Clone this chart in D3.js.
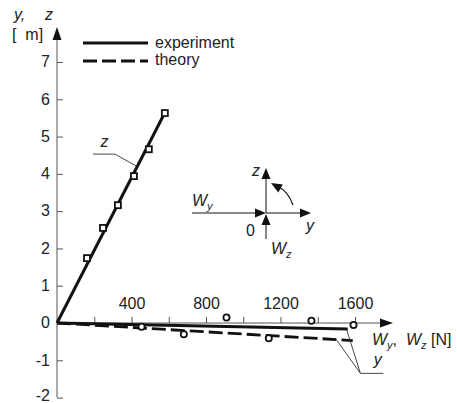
<!DOCTYPE html>
<html>
<head>
<meta charset="utf-8">
<script src="https://cdn.jsdelivr.net/npm/d3@7"></script>
<style>
  body { margin: 0; background: #fff; }
  svg { display: block; font-family: "Liberation Sans", Arial, sans-serif; }
  .tick text { font-size: 16px; fill: #222; }
  .tick line, .ax { stroke: #555; stroke-width: 1; }
</style>
</head>
<body>
<svg id="chart" width="457" height="403"></svg>
<script>
// z displacement (squares), force in N
const zForce = [161, 247, 327, 413, 493, 579];
const zDisp = [1.74, 2.55, 3.16, 3.94, 4.66, 5.63];
// y displacement (circles)
const yForce = [454, 681, 910, 1137, 1366, 1592];
const yDisp = [-0.10, -0.30, 0.15, -0.41, 0.06, -0.05];
// fitted lines
const zExperiment = [[0, 0], [585, 5.7]];
const yExperiment = [[0, 0], [1561, -0.16]];
const yTheory = [[0, 0], [1588, -0.47]];
const xTicks = [200, 400, 600, 800, 1000, 1200, 1400, 1600];
const yTicks = [-2, -1, 0, 1, 2, 3, 4, 5, 6, 7];

const svg = d3.select("#chart");
const x = d3.scaleLinear().domain([0, 1600]).range([57, 355]);
const y = d3.scaleLinear().domain([-2, 7]).range([397.6, 62]);
const line = d3.line().x(d => x(d[0])).y(d => y(d[1]));

// axes lines with arrows
svg.append("line").attr("class", "ax")
  .attr("x1", x(0)).attr("x2", 382).attr("y1", y(0)).attr("y2", y(0));
svg.append("path").attr("fill", "#111")
  .attr("d", `M393,${y(0)} L380,${y(0) - 4.5} L380,${y(0) + 4.5} Z`);
svg.append("line").attr("class", "ax")
  .attr("x1", x(0)).attr("x2", x(0)).attr("y1", y(-2)).attr("y2", 38);
svg.append("path").attr("fill", "#111")
  .attr("d", `M${x(0)},27 L${x(0) - 4.5},40 L${x(0) + 4.5},40 Z`);

const yAxis = svg.append("g").attr("transform", `translate(${x(0)},0)`)
  .call(d3.axisLeft(y).tickValues(yTicks).tickSize(-6).tickPadding(7).tickFormat(d => String(d)));
yAxis.select(".domain").remove();
yAxis.selectAll(".tick text").attr("dy", d => d === -2 ? "0.15em" : "0.3em");

const xAxis = svg.append("g").attr("transform", `translate(0,${y(0)})`)
  .call(d3.axisTop(x).tickValues(xTicks).tickSize(6).tickPadding(8)
    .tickFormat(d => d % 400 === 0 ? d : ""));
xAxis.select(".domain").remove();
xAxis.selectAll(".tick text").attr("dy", "0em");

// axis titles
svg.append("text").attr("x", 14).attr("y", 20).attr("font-size", 16).attr("font-style", "italic")
  .attr("fill", "#222").text("y,");
svg.append("text").attr("x", 45).attr("y", 20).attr("font-size", 16).attr("font-style", "italic")
  .attr("fill", "#222").text("z");
svg.append("text").attr("x", 12).attr("y", 40).attr("font-size", 16).attr("fill", "#222")
  .attr("xml:space", "preserve").text("[  m]");

const xt = svg.append("text").attr("x", 372).attr("y", 345).attr("font-size", 16).attr("fill", "#222")
  .attr("xml:space", "preserve");
xt.append("tspan").attr("font-style", "italic").text("W");
xt.append("tspan").attr("font-style", "italic").attr("font-size", 11).attr("dy", 4).text("y");
xt.append("tspan").attr("dy", -4).text(",  ");
xt.append("tspan").attr("font-style", "italic").text("W");
xt.append("tspan").attr("font-style", "italic").attr("font-size", 11).attr("dy", 4).text("z");
xt.append("tspan").attr("dy", -4).text(" [N]");

// lines
svg.append("path").datum(yTheory).attr("d", line).attr("fill", "none")
  .attr("stroke", "#111").attr("stroke-width", 2.8).attr("stroke-dasharray", "14,5");
svg.append("path").datum(yExperiment).attr("d", line).attr("fill", "none")
  .attr("stroke", "#111").attr("stroke-width", 2.8);
svg.append("path").datum(zExperiment).attr("d", line).attr("fill", "none")
  .attr("stroke", "#111").attr("stroke-width", 3);

// markers
svg.selectAll(".sq").data(zForce).join("rect").attr("class", "sq")
  .attr("x", d => x(d) - 3).attr("y", (d, i) => y(zDisp[i]) - 3)
  .attr("width", 6).attr("height", 6)
  .attr("fill", "#fff").attr("stroke", "#111").attr("stroke-width", 1.8);
svg.selectAll(".ci").data(yForce).join("circle").attr("class", "ci")
  .attr("cx", d => x(d)).attr("cy", (d, i) => y(yDisp[i])).attr("r", 3.1)
  .attr("fill", "#fff").attr("stroke", "#111").attr("stroke-width", 1.8);

// leader annotations (data units)
const zLeader = [[193, 4.53], [311, 4.53], [429, 4.2]];
svg.append("path").datum(zLeader).attr("d", line).attr("fill", "none").attr("stroke", "#333").attr("stroke-width", 0.9);
svg.append("text").attr("x", x(255)).attr("y", y(4.73)).attr("font-size", 16).attr("font-style", "italic")
  .attr("fill", "#222").attr("text-anchor", "middle").text("z");

const yLeaderA = [[1502, -0.46], [1629, -1.35], [1752, -1.35]];
const yLeaderB = [[1556, -0.19], [1629, -1.35]];
[yLeaderA, yLeaderB].forEach(p => svg.append("path").datum(p).attr("d", line)
  .attr("fill", "none").attr("stroke", "#333").attr("stroke-width", 0.9));
svg.append("text").attr("x", x(1722)).attr("y", y(-1.12)).attr("font-size", 16).attr("font-style", "italic")
  .attr("fill", "#222").attr("text-anchor", "middle").text("y");

// legend
const lg = svg.append("g");
lg.append("line").attr("x1", 83).attr("x2", 148).attr("y1", 43).attr("y2", 43)
  .attr("stroke", "#111").attr("stroke-width", 2.8);
lg.append("line").attr("x1", 83).attr("x2", 148).attr("y1", 61).attr("y2", 61)
  .attr("stroke", "#111").attr("stroke-width", 2.8).attr("stroke-dasharray", "14,5");
lg.append("text").attr("x", 155).attr("y", 48).attr("font-size", 16).attr("fill", "#222").text("experiment");
lg.append("text").attr("x", 155).attr("y", 65).attr("font-size", 16).attr("fill", "#222").text("theory");

// inset sketch of forces
const ins = svg.append("g").attr("transform", "translate(266,213)");
const arrowHead = (g, tx, ty, ang) => g.append("path").attr("fill", "#111")
  .attr("transform", `translate(${tx},${ty}) rotate(${ang})`).attr("d", "M0,0 L-11,-4.5 L-11,4.5 Z");
ins.append("line").attr("x1", -74).attr("x2", -10).attr("y1", 0).attr("y2", 0).attr("stroke", "#111");
arrowHead(ins, 0, 0, 0);
ins.append("line").attr("x1", 0).attr("x2", 35).attr("y1", 0).attr("y2", 0).attr("stroke", "#111");
arrowHead(ins, 45, 0, 0);
ins.append("line").attr("x1", 0).attr("x2", 0).attr("y1", 0).attr("y2", -34).attr("stroke", "#111");
arrowHead(ins, 0, -45, -90);
ins.append("line").attr("x1", 0).attr("x2", 0).attr("y1", 26).attr("y2", 10).attr("stroke", "#111");
arrowHead(ins, 0, 1, -90);
ins.append("path").attr("d", "M27,-8 Q22,-22 11,-27").attr("fill", "none").attr("stroke", "#111").attr("stroke-width", 1.2);
arrowHead(ins, 5, -30, -150);
ins.append("text").attr("x", -14).attr("y", -37).attr("font-size", 16).attr("font-style", "italic").attr("fill", "#222").text("z");
ins.append("text").attr("x", 40).attr("y", 18).attr("font-size", 16).attr("font-style", "italic").attr("fill", "#222").text("y");
ins.append("text").attr("x", -20).attr("y", 23).attr("font-size", 16).attr("fill", "#222").text("0");
const wy = ins.append("text").attr("x", -74).attr("y", -7).attr("font-size", 16).attr("font-style", "italic").attr("fill", "#222");
wy.append("tspan").text("W");
wy.append("tspan").attr("font-size", 11).attr("dy", 4).text("y");
const wz = ins.append("text").attr("x", 5).attr("y", 41).attr("font-size", 16).attr("font-style", "italic").attr("fill", "#222");
wz.append("tspan").text("W");
wz.append("tspan").attr("font-size", 11).attr("dy", 4).text("z");
</script>
</body>
</html>
